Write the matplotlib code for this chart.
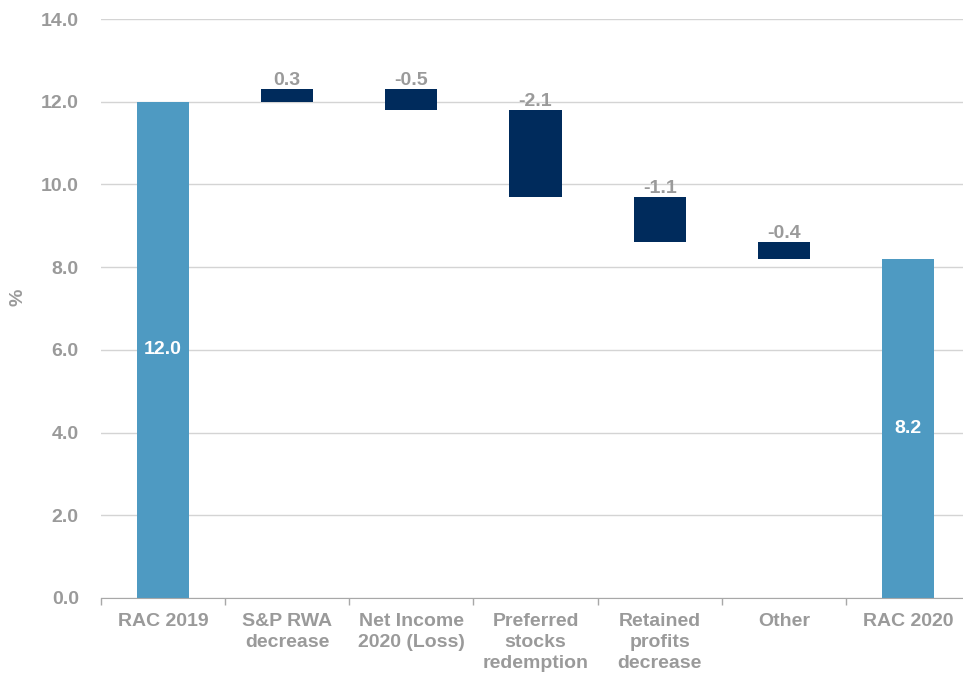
import numpy as np
import matplotlib
matplotlib.use("Agg")
from matplotlib import pyplot as plt

categories = ["RAC 2019", "S&P RWA\ndecrease", "Net Income\n2020 (Loss)", "Preferred\nstocks\nredemption",
              "Retained\nprofits\ndecrease", "Other", "RAC 2020"]
start_value = 12.0
changes = [0.3, -0.5, -2.1, -1.1, -0.4]
end_value = 8.2

light_blue = "#4E9AC2"
navy = "#002B5C"
grey = "#9A9A9A"

plt.rcParams['font.family'] = ['Liberation Sans', 'DejaVu Sans']
plt.rcParams['font.weight'] = 'bold'
fs = 14

fig = plt.figure(figsize=(9.63, 6.73), dpi=100)
ax = fig.add_axes([101 / 963, 75 / 673, 869 / 963, 579 / 673])

n = len(categories)
x = np.arange(n)
width = 0.42

# totals at both ends
ax.bar(x[0], start_value, width, color=light_blue, zorder=3)
ax.bar(x[-1], end_value, width, color=light_blue, zorder=3)
ax.text(x[0], start_value / 2, f"{start_value:.1f}", color="white", ha="center", va="center", fontsize=fs, zorder=4)
ax.text(x[-1], end_value / 2, f"{end_value:.1f}", color="white", ha="center", va="center", fontsize=fs, zorder=4)

# floating steps
level = start_value
for i, d in enumerate(changes, start=1):
    lo, hi = min(level, level + d), max(level, level + d)
    ax.bar(x[i], hi - lo, width, bottom=lo, color=navy, zorder=3)
    ax.annotate(f"{d:.1f}", (x[i], hi), xytext=(0, 0), textcoords="offset points",
                ha="center", va="bottom", color=grey, fontsize=fs, zorder=4)
    level += d

ax.set_xlim(-0.5, n - 0.5)
ax.set_ylim(0, 14)
ax.set_yticks(np.arange(0, 15, 2))
ax.set_yticklabels([f"{v:.1f}" for v in np.arange(0, 15, 2)])
ax.yaxis.grid(True, color="#D4D4D4", linewidth=1, zorder=0)
ax.tick_params(axis="y", length=0, pad=16, labelsize=fs, labelcolor=grey)

ax.set_xticks(np.arange(-0.5, n, 1))
ax.set_xticklabels([])
ax.set_xticks(x, minor=True)
ax.set_xticklabels(categories, minor=True, linespacing=1.3)
ax.tick_params(axis="x", which="major", length=5, color="#A8A8A8", width=1)
ax.tick_params(axis="x", which="minor", length=0, pad=11, labelsize=fs, labelcolor=grey)
for lbl in ax.get_xticklabels(minor=True):
    lbl.set_verticalalignment("top")

for s in ["top", "right", "left"]:
    ax.spines[s].set_visible(False)
ax.spines["bottom"].set_color("#A8A8A8")
ax.spines["bottom"].set_zorder(5)

fig.text(18 / 963, 1 - 297 / 673, "%", color=grey, fontsize=fs, rotation=90, ha="center", va="center")

fig.savefig("out.png", dpi=100)
